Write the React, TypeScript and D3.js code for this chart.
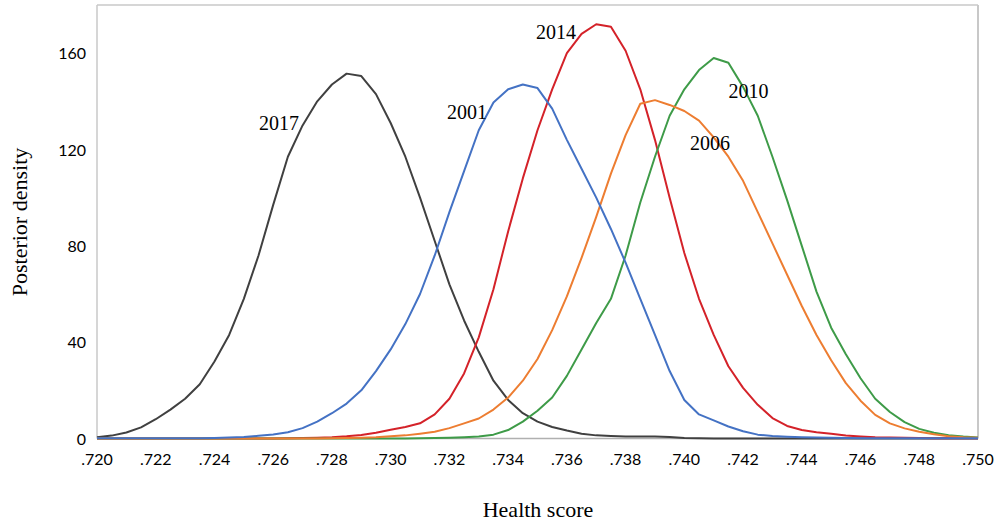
import React from "react";
import * as d3 from "d3";

const xGrid = [
  0.72, 0.7205, 0.721, 0.7215, 0.722, 0.7225, 0.723, 0.7235, 0.724, 0.7245,
  0.725, 0.7255, 0.726, 0.7265, 0.727, 0.7275, 0.728, 0.7285, 0.729, 0.7295,
  0.73, 0.7305, 0.731, 0.7315, 0.732, 0.7325, 0.733, 0.7335, 0.734, 0.7345,
  0.735, 0.7355, 0.736, 0.7365, 0.737, 0.7375, 0.738, 0.7385, 0.739, 0.7395,
  0.74, 0.7405, 0.741, 0.7415, 0.742, 0.7425, 0.743, 0.7435, 0.744, 0.7445,
  0.745, 0.7455, 0.746, 0.7465, 0.747, 0.7475, 0.748, 0.7485, 0.749, 0.7495,
  0.75,
];

const s2017 = [
  0.5, 1.2, 2.5, 4.6, 8, 12, 16.5, 22.5, 32, 43,
  58, 76, 97, 117, 130, 140, 147, 151.5, 150.5, 143,
  131, 117, 100, 82, 64, 49, 36, 24, 16, 10.5,
  7, 4.8, 3.3, 2, 1.3, 1, 0.8, 0.8, 0.8, 0.6,
  0.2, 0.1, 0, 0, 0, 0, 0, 0, 0, 0,
  0, 0, 0, 0, 0, 0, 0, 0, 0, 0,
  0,
];

const s2001 = [
  0.1, 0.1, 0.1, 0.1, 0.1, 0.1, 0.1, 0.1, 0.2, 0.4,
  0.6, 1.1, 1.7, 2.6, 4.3, 7, 10.5, 14.5, 20, 28,
  37, 47.5, 60, 76, 94, 111, 128, 139.5, 145, 147,
  145.5, 137, 124, 112, 100, 87, 73, 58, 43, 28,
  16, 10, 7.5, 5, 3, 1.6, 1, 0.7, 0.5, 0.4,
  0.3, 0.2, 0.1, 0.1, 0.1, 0.1, 0.1, 0.1, 0.1, 0.1,
  0.1,
];

const s2014 = [
  0, 0, 0, 0, 0, 0, 0, 0, 0, 0,
  0, 0, 0, 0.1, 0.2, 0.3, 0.5, 0.9, 1.5, 2.4,
  3.6, 4.8, 6.3, 10, 16.5, 27, 42, 62, 86, 108,
  128, 145, 160, 168, 172, 171, 161, 145, 124, 100,
  77, 58, 43, 30, 21, 14, 8.5, 5.2, 3.5, 2.6,
  2, 1.2, 0.8, 0.5, 0.4, 0.3, 0.2, 0.1, 0.1, 0.1,
  0.1,
];

const s2006 = [
  0, 0, 0, 0, 0, 0, 0, 0, 0, 0,
  0, 0, 0, 0, 0, 0, 0.1, 0.2, 0.3, 0.5,
  0.9, 1.3, 2, 2.8, 4.3, 6.3, 8.3, 12, 17, 24,
  33, 45, 59, 75, 92, 110, 126, 139, 140.5, 138.5,
  136, 132, 125, 117, 107, 94, 81, 68, 55, 43,
  32.5, 23, 15.7, 9.8, 6.3, 4.2, 2.8, 1.8, 0.9, 0.5,
  0.3,
];

const s2010 = [
  0, 0, 0, 0, 0, 0, 0, 0, 0, 0,
  0, 0, 0, 0, 0, 0, 0, 0, 0, 0,
  0, 0, 0.1, 0.2, 0.3, 0.5, 0.8, 1.6, 3.5, 7,
  11.5, 17, 26, 37, 48, 58, 76, 98, 117, 134,
  145, 153, 158, 156, 146, 134, 117, 99, 80, 61,
  46, 35, 25, 16.5, 11, 6.8, 4, 2.4, 1.4, 0.8,
  0.4,
];

const xTicks = [0.72, 0.722, 0.724, 0.726, 0.728, 0.73, 0.732, 0.734, 0.736, 0.738, 0.74, 0.742, 0.744, 0.746, 0.748, 0.75];
const yTicks = [0, 40, 80, 120, 160];

const seriesNames = ["2001", "2006", "2010", "2014", "2017"];
const seriesValues = [s2001, s2006, s2010, s2014, s2017];
const seriesColors = ["#4472C4", "#ED7D31", "#3E9B48", "#D42229", "#404040"];

// label anchors in data units
const labelX = [0.73328, 0.74019, 0.7415, 0.73631, 0.72688];
const labelY = [132.8, 120, 141.5, 165.7, 128];
const labelAnchor = ["end", "start", "start", "end", "end"];

export default function App() {
  const W = 999;
  const H = 527;
  const left = 97;
  const right = 978;
  const top = 5;
  const bottom = 438.5;

  const x = d3.scaleLinear().domain([0.72, 0.75]).range([left, right]);
  const y = d3.scaleLinear().domain([0, 180]).range([bottom, top]);

  const line = d3
    .line<number>()
    .x((_, i) => x(xGrid[i]))
    .y((d) => y(d));

  const fmt = (v: number) => d3.format(".3f")(v).replace(/^0/, "");

  const drawOrder = [4, 3, 2, 1, 0];

  return (
    <svg
      width={W}
      height={H}
      style={{ position: "absolute", left: 0, top: 0, background: "#fff" }}
    >
      <rect x={0} y={0} width={W} height={H} fill="#fff" />
      <line x1={left} y1={top} x2={right} y2={top} stroke="#c8c8c8" strokeWidth={1.5} />
      <line x1={left} y1={top} x2={left} y2={bottom} stroke="#c8c8c8" strokeWidth={1.5} />
      <line x1={right} y1={top} x2={right} y2={bottom} stroke="#c8c8c8" strokeWidth={2} />
      <line x1={left} y1={bottom} x2={right} y2={bottom} stroke="#b0b0b0" strokeWidth={1.5} />

      {drawOrder.map((k) => (
        <path
          key={seriesNames[k]}
          d={line(seriesValues[k]) || ""}
          fill="none"
          stroke={seriesColors[k]}
          strokeWidth={2}
          strokeLinejoin="round"
        />
      ))}

      {seriesNames.map((n, k) => (
        <text
          key={"lab" + n}
          x={x(labelX[k])}
          y={y(labelY[k])}
          textAnchor={labelAnchor[k] as any}
          fontFamily="'Liberation Serif', 'Times New Roman', serif"
          fontSize={20}
          fill="#000"
        >
          {n}
        </text>
      ))}

      {xTicks.map((t) => (
        <text
          key={"xt" + t}
          x={x(t)}
          y={465}
          textAnchor="middle"
          fontFamily="Lato, 'Open Sans', sans-serif"
          fontSize={16}
          fill="#000"
        >
          {fmt(t)}
        </text>
      ))}

      {yTicks.map((t) => (
        <text
          key={"yt" + t}
          x={86}
          y={y(t) + 6}
          textAnchor="end"
          fontFamily="Lato, 'Open Sans', sans-serif"
          fontSize={16}
          fill="#000"
        >
          {t}
        </text>
      ))}

      <text
        x={538}
        y={517}
        textAnchor="middle"
        fontFamily="'Liberation Serif', 'Times New Roman', serif"
        fontSize={22}
        fill="#000"
      >
        Health score
      </text>
      <text
        transform={`translate(27, ${222}) rotate(-90)`}
        textAnchor="middle"
        fontFamily="'Liberation Serif', 'Times New Roman', serif"
        fontSize={22}
        fill="#000"
      >
        Posterior density
      </text>
    </svg>
  );
}
